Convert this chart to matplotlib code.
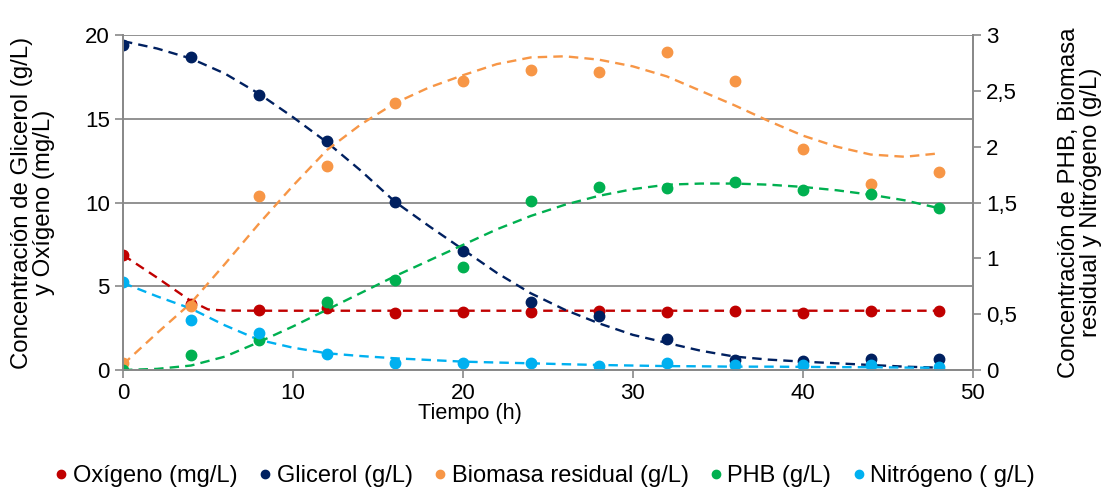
import matplotlib
matplotlib.use("Agg")
import matplotlib.pyplot as plt
from matplotlib.lines import Line2D

plt.rcParams['font.family'] = ['Liberation Sans', 'DejaVu Sans']
plt.rcParams['font.size'] = 16

# measured points (h)
tiempo = [0, 4, 8, 12, 16, 20, 24, 28, 32, 36, 40, 44, 48]
oxigeno = [6.87, 3.92, 3.58, 3.70, 3.38, 3.48, 3.48, 3.54, 3.48, 3.52, 3.42, 3.50, 3.50]
glicerol = [19.4, 18.67, 16.42, 13.69, 10.01, 7.10, 4.04, 3.22, 1.83, 0.60, 0.54, 0.66, 0.64]
biomasa = [0.06, 0.57, 1.56, 1.83, 2.39, 2.59, 2.69, 2.67, 2.85, 2.59, 1.98, 1.67, 1.77]
phb = [0.0, 0.13, 0.27, 0.61, 0.81, 0.92, 1.51, 1.64, 1.63, 1.68, 1.61, 1.58, 1.45]
nitrogeno = [0.785, 0.45, 0.334, 0.146, 0.06, 0.06, 0.06, 0.04, 0.06, 0.045, 0.045, 0.045, 0.024]

# trend curves
t_trend = [0, 2, 4, 6, 8, 10, 12, 14, 16, 18, 20, 22, 24, 26, 28, 30, 32, 34, 36, 38, 40, 42, 44, 46, 48]
glicerol_trend = [19.64, 19.2, 18.6, 17.7, 16.5, 15.1, 13.6, 11.9, 10.05, 8.6, 7.2, 5.8, 4.58,
                  3.6, 2.79, 2.1, 1.62, 1.15, 0.8, 0.62, 0.5, 0.4, 0.3, 0.2, 0.14]
biomasa_trend = [0.05, 0.33, 0.6, 0.95, 1.31, 1.65, 1.97, 2.2, 2.39, 2.53, 2.64, 2.74, 2.80,
                 2.81, 2.78, 2.72, 2.63, 2.5, 2.37, 2.23, 2.10, 2.0, 1.93, 1.91, 1.94]
phb_trend = [0.0, 0.01, 0.04, 0.12, 0.25, 0.39, 0.54, 0.69, 0.84, 0.98, 1.12, 1.26, 1.38,
             1.48, 1.56, 1.62, 1.66, 1.67, 1.67, 1.66, 1.64, 1.61, 1.57, 1.52, 1.45]
nitrogeno_trend = [0.78, 0.66, 0.55, 0.40, 0.27, 0.20, 0.15, 0.125, 0.105, 0.09, 0.075, 0.067, 0.06,
                   0.052, 0.045, 0.04, 0.035, 0.033, 0.03, 0.03, 0.028, 0.026, 0.025, 0.022, 0.02]
t_oxi_trend = [0, 2, 4, 5, 6, 8, 48]
oxigeno_trend = [6.87, 5.52, 4.12, 3.62, 3.55, 3.54, 3.54]

labels = ['Oxígeno (mg/L)', 'Glicerol (g/L)', 'Biomasa residual (g/L)', 'PHB (g/L)', 'Nitrógeno ( g/L)']
colors = ['#C00000', '#002060', '#F79646', '#00B050', '#00B0F0']

fig = plt.figure(figsize=(11.18, 4.94), dpi=100)
ax = fig.add_axes([0.110, 0.251, 0.760, 0.678])
ax2 = ax.twinx()

dash = (0, (4, 2.6))
lw = 1.7
ms = 7.5

ax.plot(t_oxi_trend, oxigeno_trend, color=colors[0], lw=lw, ls=dash)
ax.plot(t_trend, glicerol_trend, color=colors[1], lw=lw, ls=dash)
ax.plot(tiempo, oxigeno, 'o', color=colors[0], ms=ms)
ax.plot(tiempo, glicerol, 'o', color=colors[1], ms=ms)

ax2.plot(t_trend, biomasa_trend, color=colors[2], lw=lw, ls=dash)
ax2.plot(t_trend, phb_trend, color=colors[3], lw=lw, ls=dash)
ax2.plot(t_trend, nitrogeno_trend, color=colors[4], lw=lw, ls=dash)
ax2.plot(tiempo, biomasa, 'o', color=colors[2], ms=ms)
ax2.plot(tiempo, phb, 'o', color=colors[3], ms=ms)
ax2.plot(tiempo, nitrogeno, 'o', color=colors[4], ms=ms)

ax.set_xlim(0, 50)
ax.set_ylim(0, 20)
ax2.set_ylim(0, 3)
ax.set_xticks([0, 10, 20, 30, 40, 50])
ax.set_yticks([0, 5, 10, 15, 20])
ax2.set_yticks([0, 0.5, 1, 1.5, 2, 2.5, 3])
ax2.set_yticklabels(['0', '0,5', '1', '1,5', '2', '2,5', '3'])

grey = '#898989'
ax.grid(axis='y', color=grey, lw=1.3)
ax.set_axisbelow(True)
for a in (ax, ax2):
    for side in a.spines:
        a.spines[side].set_color(grey)
        a.spines[side].set_linewidth(1.3)
    a.spines['top'].set_visible(False)
    a.tick_params(colors=grey, labelcolor='black', length=6, width=1.2, labelsize=16)
ax.tick_params(axis='x', pad=3)

ax.set_xlabel('Tiempo (h)', fontsize=15.6)
ax.xaxis.set_label_coords(0.408, -0.10)
ax.set_ylabel('Concentración de Glicerol (g/L)\ny Oxígeno (mg/L)', fontsize=17.3, linespacing=1.0)
ax.yaxis.set_label_coords(-0.08, 0.5)
ax2.set_ylabel('Concentración de PHB, Biomasa\nresidual y Nitrógeno (g/L)', fontsize=17.3,
               rotation=90, linespacing=1.0)
ax2.yaxis.set_label_coords(1.100, 0.5)

handles = [Line2D([], [], ls='none', marker='o', color=c, ms=6) for c in colors]
fig.legend(handles, labels, loc='center', ncol=5, bbox_to_anchor=(0.485, 0.036),
           frameon=False, fontsize=17, handletextpad=0.0, columnspacing=0.65,
           handlelength=1.0)

fig.savefig('out.png', dpi=100)
